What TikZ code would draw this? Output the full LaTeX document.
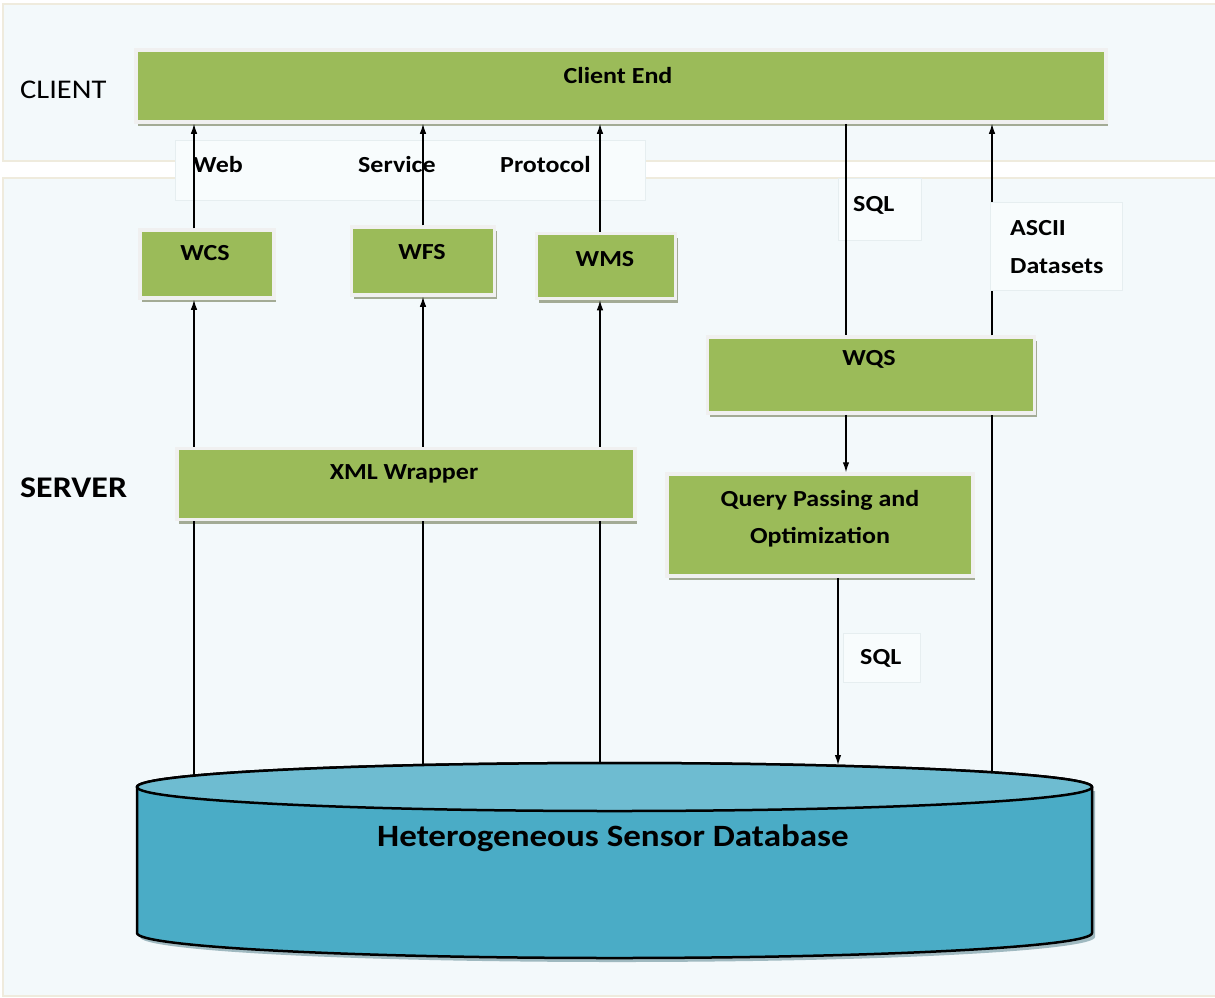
\documentclass[tikz,border=0pt]{standalone}
\usepackage{fontspec}
\setmainfont{Carlito}[FakeStretch=1.13]
\usetikzlibrary{shadows,arrows.meta,calc}
\definecolor{gfill}{HTML}{9BBB59}
\definecolor{gshadow}{HTML}{A3AB95}
\definecolor{panel}{HTML}{F3F9FB}
\definecolor{panelline}{HTML}{EFEBDD}
\definecolor{dbside}{HTML}{4AACC6}
\definecolor{dbtop}{HTML}{6EBCD1}
\definecolor{dbshadow}{HTML}{9FB9C0}
\definecolor{lblfill}{HTML}{F8FCFD}
\definecolor{lblline}{HTML}{E6EEF0}
\begin{document}
\begin{tikzpicture}[x=1pt,y=-1pt,
  gbox/.style={fill=gfill, draw=white!94!black, line width=3.5pt, inner sep=0pt,
    drop shadow={shadow xshift=2pt, shadow yshift=-4pt, fill=gshadow, opacity=1}},
  txt/.style={font=\fontsize{23}{27}\selectfont\bfseries, inner sep=0pt},
  side/.style={font=\fontsize{27}{31}\selectfont, inner sep=0pt, anchor=west},
  lblbox/.style={fill=lblfill, draw=lblline, line width=1pt},
  arr/.style={line width=1.2pt, -{Latex[length=10pt,width=6.5pt]}},
  ln/.style={line width=1.2pt}]
\useasboundingbox (0,0) rectangle (1215,997);
\fill[white] (0,0) rectangle (1215,997);
% panels
\draw[fill=panel, draw=panelline, line width=1.5pt] (3,4) rectangle (1216,161);
\draw[fill=panel, draw=panelline, line width=1.5pt] (3,178) rectangle (1216,996);
% side labels
\node[side] (clientlbl) at (20,90) {CLIENT};
\node[side, font=\fontsize{30}{34}\selectfont\bfseries] (serverlbl) at (20,488) {SERVER};
% label boxes behind connectors
\draw[lblbox] (175,140) rectangle (645,200);
\draw[lblbox] (838,178) rectangle (921,240);
\draw[lblbox] (843,633) rectangle (920,682);
% boxes
\node[gbox, minimum width=970pt, minimum height=72pt] (client) at (621,86) {};
\node[gbox, minimum width=134pt, minimum height=68pt] (wcs) at (207,264) {};
\node[gbox, minimum width=143pt, minimum height=68pt] (wfs) at (423,261) {};
\node[gbox, minimum width=139pt, minimum height=65pt] (wms) at (606,266) {};
\node[gbox, minimum width=458pt, minimum height=71pt] (xml) at (406,484) {};
\node[gbox, minimum width=327pt, minimum height=76pt] (wqs) at (871,375) {};
\node[gbox, minimum width=306pt, minimum height=102pt] (query) at (820,525) {};
% box texts
\node[txt] (clientT) at (618,76) {Client End};
\node[txt] (wcsT) at (205,253) {WCS};
\node[txt] (wfsT) at (422,252) {WFS};
\node[txt] (wmsT) at (605,259) {WMS};
\node[txt] (xmlT) at (404,474) {XML Wrapper};
\node[txt] (wqsT) at (869,359) {WQS};
\node[txt] (queryT1) at (820,500) {Query Passing and};
\node[txt] (queryT2) at (820,537) {Optimization};
% database cylinder
\fill[dbshadow] (140,791) -- (140,937) arc[start angle=180,end angle=360,x radius=477.5pt,y radius=25pt] -- (1095,791) -- cycle;
\draw[fill=dbside, line width=2.5pt, line join=round] (137,787) -- (137,933)
  arc[start angle=180,end angle=360,x radius=477.5pt,y radius=25pt] -- (1092,787)
  arc[start angle=0,end angle=180,x radius=477.5pt,y radius=24pt] -- cycle;
\draw[fill=dbtop, line width=2.5pt] (614.5,787) ellipse [x radius=477.5pt, y radius=24pt];
\node[font=\fontsize{31}{35}\selectfont\bfseries, inner sep=0pt] (dbT) at (613,838) {Heterogeneous Sensor Database};
\coordinate (db1) at (194,776);
\coordinate (db2) at (423,765);
\coordinate (db3) at (600,763);
\coordinate (db6) at (838,765);
\coordinate (db5) at (992,772);
% x guides
\coordinate (x1) at (194,0);
\coordinate (x2) at (423,0);
\coordinate (x3) at (600,0);
\coordinate (x4) at (846,0);
\coordinate (x5) at (992,0);
\coordinate (x6) at (838,0);
% connectors
\draw[arr] (wcs.north -| x1) -- (client.south -| x1);
\draw[arr] (wfs.north -| x2) -- (client.south -| x2);
\draw[arr] (wms.north -| x3) -- (client.south -| x3);
\draw[arr] (xml.north -| x1) -- (wcs.south -| x1);
\draw[arr] (xml.north -| x2) -- (wfs.south -| x2);
\draw[arr] (xml.north -| x3) -- (wms.south -| x3);
\draw[ln] (db1) -- (xml.south -| x1);
\draw[ln] (db2) -- (xml.south -| x2);
\draw[ln] (db3) -- (xml.south -| x3);
\draw[ln] (client.south -| x4) -- (wqs.north -| x4);
\draw[arr] (wqs.north -| x5) -- (client.south -| x5);
\draw[ln] (db5) -- (wqs.south -| x5);
\draw[arr] (wqs.south -| x4) -- (query.north -| x4);
\draw[arr] (query.south -| x6) -- (db6);
% ASCII label box covers its line
\draw[lblbox] (990,202) rectangle (1122,290);
% connector labels
\node[txt, anchor=west] (webT) at (193,165) {Web};
\node[txt, anchor=west] (serviceT) at (358,165) {Service};
\node[txt, anchor=west] (protocolT) at (500,165) {Protocol};
\node[txt, anchor=west] (sql1T) at (853,205) {SQL};
\node[txt, anchor=west] (asciiT) at (1010,228) {ASCII};
\node[txt, anchor=west] (dataT) at (1010,266) {Datasets};
\node[txt, anchor=west] (sql2T) at (860,658) {SQL};
\end{tikzpicture}
\end{document}
